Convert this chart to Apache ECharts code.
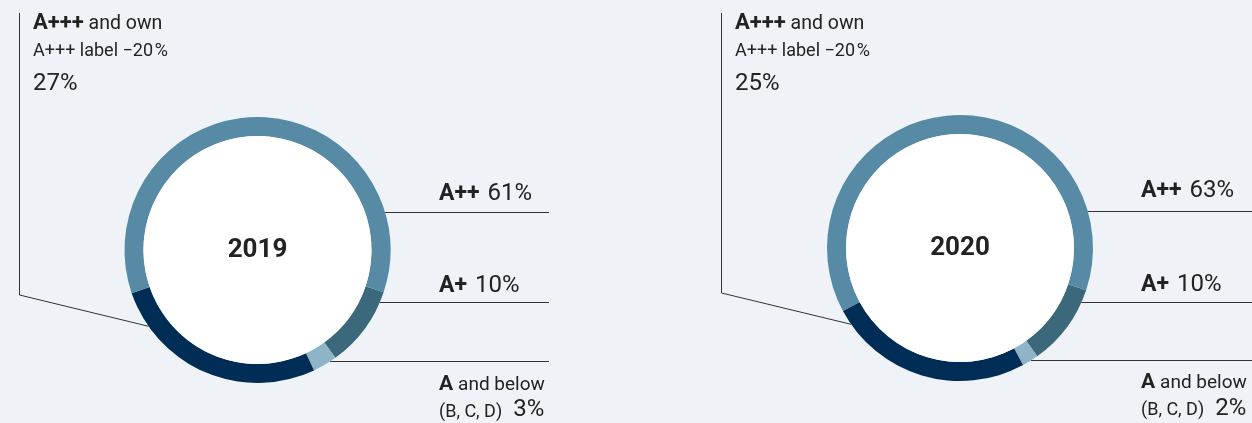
<!DOCTYPE html>
<html>
<head>
<meta charset="utf-8">
<script src="https://cdn.jsdelivr.net/npm/echarts@6/dist/echarts.min.js"></script>
<style>
  html, body { margin: 0; padding: 0; background: #eff3f7; }
  #chart { width: 1252px; height: 423px; }
</style>
</head>
<body>
<div id="chart"></div>
<script>
// Energy-label classes, listed in clockwise order around each ring
const years = ['2019', '2020'];
const classes = ['A+', 'A', 'A+++', 'A++'];
const shares2019 = [10, 3, 27, 61];
const shares2020 = [10, 2, 25, 63];
const classColors = ['#3b687b', '#8db4c7', '#002d55', '#568aa5'];

const FONT = 'Roboto, "DejaVu Sans", sans-serif';
const INK = '#222222';
const LINE = '#333333';
const R_IN = 114;
const R_OUT = 133;
const START_ANGLE = -18.5;

// Layout of each year's panel
const panels = [
  { year: years[0], shares: shares2019, cx: 257.5, cy: 250, stemX: 19.5, textX: 33,
    labelX: 439, lineEnd: 549, rows: [212.5, 302.5, 361.5],
    baselines: [202.3, 294, 391.7, 418.3] },
  { year: years[1], shares: shares2020, cx: 960, cy: 248, stemX: 721.5, textX: 735,
    labelX: 1141, lineEnd: 1252, rows: [211.5, 302.5, 360.5],
    baselines: [199.3, 292.7, 390, 416.7] }
];

const chart = echarts.init(document.getElementById('chart'), null, { renderer: 'canvas' });
const measureCtx = document.createElement('canvas').getContext('2d');

// Lay out a row of text runs that share one baseline
function textRuns(x, baseline, parts) {
  const els = [];
  let px = x;
  parts.forEach(([text, size, weight, gap]) => {
    const font = `${weight} ${size}px ${FONT}`;
    measureCtx.font = font;
    els.push({
      type: 'text', silent: true,
      style: { text, x: px, y: baseline - 0.34 * size, font, fill: INK, align: 'left', verticalAlign: 'middle' }
    });
    px += measureCtx.measureText(text).width + (gap || 0);
  });
  return els;
}

const pct = v => v + '%';
const series = [];
const graphics = [];

panels.forEach(p => {
  const val = name => p.shares[classes.indexOf(name)];

  // donut ring
  series.push({
    type: 'pie',
    radius: [R_IN, R_OUT],
    center: [p.cx, p.cy],
    startAngle: START_ANGLE,
    clockwise: true,
    silent: true,
    animation: false,
    avoidLabelOverlap: false,
    label: { show: false },
    labelLine: { show: false },
    emphasis: { disabled: true },
    itemStyle: { borderWidth: 0 },
    data: classes.map((c, i) => ({ name: c, value: p.shares[i], itemStyle: { color: classColors[i] } }))
  });
  // white disc carrying the year
  series.push({
    type: 'pie',
    radius: [0, R_IN],
    center: [p.cx, p.cy],
    silent: true,
    animation: false,
    emphasis: { disabled: true },
    labelLine: { show: false },
    label: {
      show: true, position: 'center', formatter: p.year,
      fontFamily: FONT, fontSize: 26, fontWeight: 'bold', color: INK
    },
    itemStyle: { color: '#ffffff', borderWidth: 0 },
    data: [{ name: p.year, value: 1 }]
  });

  // leader for the A+++ share: stem down the left, then towards the ring
  const theta = 235 * Math.PI / 180;
  const tip = [p.cx + R_OUT * Math.sin(theta), p.cy - R_OUT * Math.cos(theta)];
  graphics.push({
    type: 'polyline', silent: true,
    shape: { points: [[p.stemX, 13], [p.stemX, p.cy + 45], tip] },
    style: { stroke: LINE, lineWidth: 1, fill: null }
  });

  // horizontal leaders on the right, starting at the ring's outer edge
  p.rows.forEach(y => {
    const dy = y - p.cy;
    const x0 = p.cx + Math.sqrt(Math.max(0, R_OUT * R_OUT - dy * dy));
    graphics.push({
      type: 'line', silent: true,
      shape: { x1: x0, y1: y, x2: p.lineEnd, y2: y },
      style: { stroke: LINE, lineWidth: 1 }
    });
  });

  // A+++ block
  graphics.push(...textRuns(p.textX, 30.7, [['A+++', 22, 'bold'], [' and own', 19.5, 'normal']]));
  graphics.push(...textRuns(p.textX, 57.3, [['A+++ label \u221220\u200a%', 18, 'normal']]));
  graphics.push(...textRuns(p.textX, 92.3, [[pct(val('A+++')), 24, 'normal']]));

  // right-hand labels
  const b = p.baselines;
  graphics.push(...textRuns(p.labelX, b[0], [['A++', 23, 'bold', 8], [pct(val('A++')), 24, 'normal']]));
  graphics.push(...textRuns(p.labelX, b[1], [['A+', 23, 'bold', 8], [pct(val('A+')), 24, 'normal']]));
  graphics.push(...textRuns(p.labelX, b[2], [['A', 21, 'bold', 5], ['and below', 19, 'normal']]));
  graphics.push(...textRuns(p.labelX, b[3], [['(B, C, D)', 18, 'normal', 11], [pct(val('A')), 24, 'normal']]));
});

chart.setOption({
  backgroundColor: '#eff3f7',
  animation: false,
  series,
  graphic: { elements: graphics }
});
</script>
</body>
</html>
